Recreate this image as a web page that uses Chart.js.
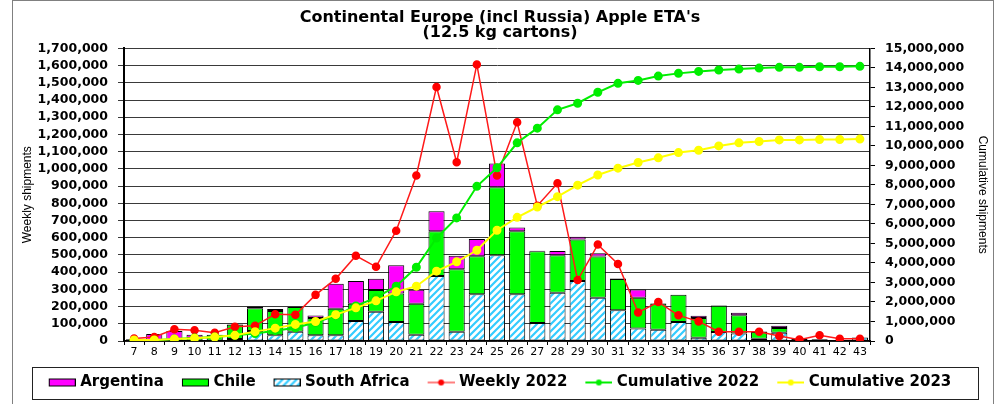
<!DOCTYPE html>
<html>
<head>
<meta charset="utf-8">
<script src="https://cdn.jsdelivr.net/npm/chart.js@4/dist/chart.umd.min.js"></script>
<style>
  html, body { margin: 0; padding: 0; background: #fff; }
  #wrap { width: 1000px; height: 404px; }
</style>
</head>
<body>
<div id="wrap"><canvas id="etaChart" width="1000" height="404"></canvas></div>
<script>
// weeks
let weeks = ["7","8","9","10","11","12","13","14","15","16","17","18","19","20","21","22","23","24","25",
  "26","27","28","29","30","31","32","33","34","35","36","37","38","39","40","41","42","43"];

// weekly shipments by origin (cartons)
let argentina = [10000, 35000, 55000, 20000, 0, 3000, 10000, 12000, 0, 15000, 145000, 133000, 66000,
  164000, 81000, 116000, 79000, 100000, 137000, 23000, 3000, 25000, 17000, 19000, 3000, 48000, 3000,
  0, 14000, 3000, 15000, 3000, 14000, 0, 0, 0, 0];
let chile = [0, 0, 3000, 17000, 33000, 83000, 133000, 141000, 143000, 100000, 155000, 100000, 126000,
  166000, 180000, 261000, 363000, 220000, 396000, 365000, 417000, 218000, 241000, 240000, 182000, 178000,
  151000, 158000, 114000, 153000, 106000, 39000, 27000, 0, 0, 0, 0];
let southAfrica = [0, 5000, 0, 0, 3000, 12000, 58000, 33000, 54000, 33000, 33000, 116000, 170000,
  110000, 37000, 377000, 54000, 272000, 498000, 272000, 104000, 280000, 348000, 251000, 178000, 73000,
  66000, 110000, 19000, 52000, 43000, 13000, 48000, 13000, 10000, 0, 21000];

// weekly 2022 total (left axis)
let weekly2022 = [15000, 23000, 68000, 62000, 48000, 83000, 89000, 156000, 153000, 268000, 361000,
  495000, 431000, 641000, 962000, 1476000, 1039000, 1607000, 962000, 1271000, 786000, 916000, 354000,
  560000, 448000, 166000, 226000, 149000, 114000, 54000, 54000, 54000, 29000, 8000, 33000, 13000, 13000];

// cumulative (right axis)
let cumulative2022 = [20000, 40000, 100000, 160000, 210000, 290000, 380000, 530000, 680000, 950000,
  1300000, 1800000, 2220000, 2810000, 3780000, 5280000, 6310000, 7930000, 8880000, 10160000, 10910000,
  11850000, 12190000, 12750000, 13210000, 13360000, 13580000, 13720000, 13820000, 13890000, 13940000,
  13990000, 14030000, 14030000, 14060000, 14060000, 14080000];
let cumulative2023 = [50000, 50000, 100000, 140000, 200000, 290000, 480000, 660000, 850000, 1000000,
  1350000, 1700000, 2060000, 2520000, 2810000, 3580000, 4060000, 4650000, 5680000, 6340000, 6870000,
  7400000, 7990000, 8510000, 8860000, 9150000, 9390000, 9660000, 9780000, 10000000, 10160000, 10230000,
  10310000, 10310000, 10330000, 10330000, 10350000];

let leftTicks = { min: 0, max: 1700000, step: 100000 };
let rightTicks = { min: 0, max: 15000000, step: 1000000 };

function stripes() {
  let c = document.createElement("canvas");
  c.width = 7; c.height = 7;
  let g = c.getContext("2d");
  g.fillStyle = "#fff";
  g.fillRect(0, 0, 7, 7);
  g.strokeStyle = "#33ccff";
  g.lineWidth = 2.2;
  g.beginPath();
  g.moveTo(-1, 8); g.lineTo(8, -1);
  g.moveTo(-1, 1); g.lineTo(1, -1);
  g.moveTo(6, 8); g.lineTo(8, 6);
  g.stroke();
  return g.createPattern(c, "repeat");
}

function barSwatch(fill) {
  let c = document.createElement("canvas");
  c.width = 30; c.height = 10;
  let g = c.getContext("2d");
  g.fillStyle = fill;
  g.fillRect(3.5, 1.5, 26, 7);
  g.strokeStyle = "#000";
  g.lineWidth = 1;
  g.strokeRect(3.5, 1.5, 26, 7);
  return c;
}

function lineSwatch(color, lineColor) {
  let c = document.createElement("canvas");
  c.width = 30; c.height = 10;
  let g = c.getContext("2d");
  g.strokeStyle = lineColor;
  g.lineWidth = 2;
  g.beginPath(); g.moveTo(3, 5); g.lineTo(30, 5); g.stroke();
  g.fillStyle = color;
  g.beginPath(); g.arc(16.5, 5, 3, 0, Math.PI * 2); g.fill();
  return c;
}

let saPattern = stripes();
let swatches = [
  barSwatch("#ff00ff"),
  barSwatch("#00ff00"),
  barSwatch(saPattern),
  lineSwatch("#ff0000", "#ff8080"),
  lineSwatch("#00ee00", "#00ee00"),
  lineSwatch("#ffff00", "#ffff00")
];

const fmt = v => Number(v).toLocaleString("en-US");

Chart.defaults.font.family = "'DejaVu Sans'";
Chart.defaults.color = "#000";

const frame = {
  id: "frame",
  beforeDraw(chart) {
    let c = chart.ctx;
    c.save();
    c.fillStyle = "#fff";
    c.fillRect(0, 0, chart.width, chart.height);
    c.strokeStyle = "#808080";
    c.lineWidth = 1;
    c.strokeRect(12.5, 0.5, 981, 430);
    c.restore();
  },
  afterDraw(chart) {
    let c = chart.ctx;
    c.save();
    c.strokeStyle = "#222";
    c.lineWidth = 1;
    c.strokeRect(32.5, 367.5, 946, 32);
    c.restore();
  }
};

let ctx = document.getElementById("etaChart").getContext("2d");
let myChart = new Chart(ctx, {
  data: {
    labels: weeks,
    datasets: [
      { type: "bar", label: "Argentina", data: argentina, backgroundColor: "#ff00ff",
        borderColor: "#000", borderWidth: 1, borderSkipped: false, yAxisID: "y", stack: "bars", order: 7 },
      { type: "bar", label: "Chile", data: chile, backgroundColor: "#00ff00",
        borderColor: "#000", borderWidth: 1, borderSkipped: false, yAxisID: "y", stack: "bars", order: 6 },
      { type: "bar", label: "South Africa", data: southAfrica, backgroundColor: saPattern,
        borderColor: "#000", borderWidth: 1, borderSkipped: false, yAxisID: "y", stack: "bars", order: 5 },
      { type: "line", label: "Weekly 2022", data: weekly2022, borderColor: "#ff1a1a", backgroundColor: "#ff0000",
        pointBackgroundColor: "#ff0000", pointBorderColor: "#ff0000", borderWidth: 1.5, pointRadius: 3.5,
        yAxisID: "y", stack: "w", order: 3 },
      { type: "line", label: "Cumulative 2022", data: cumulative2022, borderColor: "#00ee00", backgroundColor: "#00ee00",
        pointBackgroundColor: "#00ee00", pointBorderColor: "#00ee00", borderWidth: 2, pointRadius: 3.5,
        yAxisID: "y1", order: 2 },
      { type: "line", label: "Cumulative 2023", data: cumulative2023, borderColor: "#ffff00", backgroundColor: "#ffff00",
        pointBackgroundColor: "#ffff00", pointBorderColor: "#ffff00", borderWidth: 2, pointRadius: 3.5,
        yAxisID: "y1", order: 1 }
    ]
  },
  options: {
    responsive: false,
    animation: false,
    layout: { padding: { top: 10, bottom: 4, left: 0, right: 0 } },
    datasets: { bar: { barPercentage: 0.8, categoryPercentage: 1 } },
    plugins: {
      tooltip: { enabled: false },
      title: {
        display: true,
        text: ["Continental Europe (incl Russia) Apple ETA's", "(12.5 kg cartons)"],
        font: { size: 16, weight: "bold", lineHeight: 0.95 },
        color: "#000",
        padding: { top: 0, bottom: 8 }
      },
      legend: {
        position: "bottom",
        labels: {
          usePointStyle: true,
          pointStyleWidth: 24,
          padding: 18,
          font: { size: 15, weight: "bold" },
          color: "#000",
          sort: (a, b) => a.datasetIndex - b.datasetIndex,
          generateLabels(chart) {
            let items = Chart.defaults.plugins.legend.labels.generateLabels(chart);
            items.forEach(it => { it.pointStyle = swatches[it.datasetIndex]; });
            return items;
          }
        }
      }
    },
    scales: {
      x: {
        stacked: true,
        afterFit: s => { s.height = 16; },
        grid: { display: true, drawOnChartArea: false, offset: true, tickLength: 4, color: "#000" },
        border: { display: true, color: "#000", width: 1.5 },
        ticks: { font: { size: 11 }, maxRotation: 0, autoSkip: false, padding: 1 }
      },
      y: {
        position: "left",
        stacked: true,
        min: leftTicks.min,
        max: leftTicks.max,
        afterFit: s => { s.width = 124; },
        ticks: { stepSize: leftTicks.step, callback: fmt, autoSkip: false,
          font: { size: 12.5, weight: "bold" }, padding: 10 },
        grid: { color: "#3a3a3a", lineWidth: 1, tickLength: 6 },
        border: { display: true, color: "#000", width: 2 },
        title: { display: true, text: "Weekly shipments", font: { family: "'Liberation Sans'", size: 12 },
          padding: { top: 20, bottom: 0 } }
      },
      y1: {
        position: "right",
        min: rightTicks.min,
        max: rightTicks.max,
        afterFit: s => { s.width = 130; },
        ticks: { stepSize: rightTicks.step, callback: fmt, autoSkip: false,
          font: { size: 12.5, weight: "bold" }, padding: 10 },
        grid: { drawOnChartArea: false, color: "#000", tickLength: 5 },
        border: { display: true, color: "#000", width: 1.5 },
        title: { display: true, text: "Cumulative shipments", font: { family: "'Liberation Sans'", size: 12 },
          padding: { top: 10, bottom: 0 } }
      }
    }
  },
  plugins: [frame]
});
</script>
</body>
</html>
